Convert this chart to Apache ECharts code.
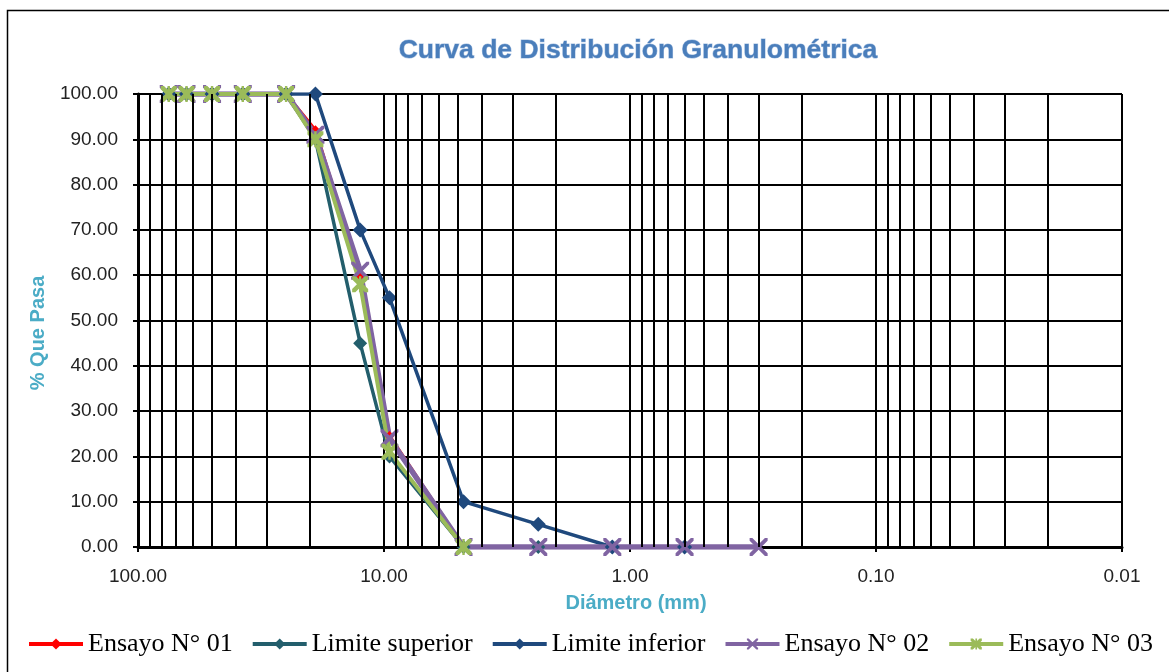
<!DOCTYPE html>
<html>
<head>
<meta charset="utf-8">
<script src="https://cdn.jsdelivr.net/npm/echarts@6/dist/echarts.min.js"></script>
<style>
html,body{margin:0;padding:0;background:#fff;}
#chart{width:1169px;height:672px;}
</style>
</head>
<body>
<div id="chart"></div>
<script>
// ---- data ----
var sieves    = [75, 63.5, 50, 37.5, 25, 19, 12.5, 9.5, 4.75, 2.36, 1.18, 0.6, 0.3];
var ensayo01  = [100, 100, 100, 100, 100, 92, 60, 24.5, 0, 0, 0, 0, null];
var limSup    = [100, 100, 100, 100, 100, 90, 45, 20, 0, 0, 0, 0, null];
var limInf    = [100, 100, 100, 100, 100, 100, 70, 55, 10, 5, 0, 0, null];
var ensayo02  = [100, 100, 100, 100, 100, 91, 61, 24, 0, 0, 0, 0, 0];
var ensayo03  = [100, 100, 100, 100, 100, 90, 58, 21, 0, null, null, null, null];
var seriesNames = ['Ensayo N° 01', 'Limite superior', 'Limite inferior', 'Ensayo N° 02', 'Ensayo N° 03'];
var xTickLabels = ['100.00', '10.00', '1.00', '0.10', '0.01'];
var yTickLabels = ['0.00','10.00','20.00','30.00','40.00','50.00','60.00','70.00','80.00','90.00','100.00'];
var decades = [0.01, 0.1, 1, 10];
var minorMult = [2, 3, 4, 5, 6, 7, 8, 9];

function pairs(arr) {
  var out = [];
  for (var i = 0; i < sieves.length; i++) {
    if (arr[i] !== null && arr[i] !== undefined) out.push([sieves[i], arr[i]]);
  }
  return out;
}

var minorLines = [];
decades.forEach(function (d) {
  minorMult.forEach(function (m) { minorLines.push({ xAxis: +(d * m).toPrecision(6) }); });
});

var xPath = 'path://M0,0 L3,0 L10,7 L17,0 L20,0 L20,3 L13,10 L20,17 L20,20 L17,20 L10,13 L3,20 L0,20 L0,17 L7,10 L0,3 Z';
var starPath = 'path://M0,0 L4,0 L10,6 L16,0 L20,0 L20,4 L14,10 L20,16 L20,20 L16,20 L10,14 L4,20 L0,20 L0,16 L6,10 L0,4 Z M8.5,0 L11.5,0 L11.5,20 L8.5,20 Z';

var chart = echarts.init(document.getElementById('chart'), null, { renderer: 'canvas' });

var option = {
  backgroundColor: '#ffffff',
  animation: false,
  title: {
    text: 'Curva de Distribución Granulométrica',
    left: 633,
    top: 32,
    textAlign: 'center',
    textStyle: {
      fontFamily: 'Liberation Sans',
      fontWeight: 'bold',
      fontSize: 26.5,
      color: '#4A7EBB',
      textBorderColor: '#A9C2E2',
      textBorderWidth: 1
    }
  },
  graphic: [
    {
      type: 'rect',
      shape: { x: 7.5, y: 10.5, width: 1200, height: 700 },
      style: { fill: 'none', stroke: '#000', lineWidth: 1.5 },
      silent: true,
      z: -10
    },
    {
      type: 'text',
      x: 38, y: 333,
      rotation: Math.PI / 2,
      style: {
        text: '% Que Pasa',
        align: 'center',
        verticalAlign: 'middle',
        font: 'bold 20px "Liberation Sans"',
        fill: '#4BACC6'
      },
      silent: true
    }
  ],
  legend: {
    data: seriesNames,
    left: 27,
    top: 631,
    padding: 0,
    itemWidth: 54,
    itemHeight: 14,
    itemGap: 18,
    lineStyle: { width: 4 },
    textStyle: {
      fontFamily: 'Liberation Serif',
      fontSize: 26,
      color: '#000'
    }
  },
  grid: { left: 138, right: 47, top: 94, bottom: 125, containLabel: false },
  xAxis: {
    type: 'log',
    logBase: 10,
    min: 0.01,
    max: 100,
    inverse: true,
    name: 'Diámetro (mm)',
    nameLocation: 'middle',
    nameGap: 46,
    nameTextStyle: {
      fontFamily: 'Liberation Sans',
      fontWeight: 'bold',
      fontSize: 20,
      color: '#4BACC6',
      padding: [0, 0, 0, 12]
    },
    axisLine: { show: true, lineStyle: { color: '#000', width: 3 } },
    axisTick: { show: true, inside: false, length: 5, lineStyle: { color: '#000', width: 2 } },
    axisLabel: {
      margin: 20,
      fontFamily: 'Liberation Sans',
      fontSize: 19,
      color: '#222',
      formatter: function (v) {
        var idx = Math.round(2 - Math.log10(v));
        return xTickLabels[idx] !== undefined ? xTickLabels[idx] : v.toFixed(2);
      }
    },
    splitLine: { show: true, lineStyle: { color: '#000', width: 2 } }
  },
  yAxis: {
    type: 'value',
    min: 0,
    max: 100,
    interval: 10,
    axisLine: { show: true, lineStyle: { color: '#000', width: 3 } },
    axisTick: { show: true, inside: false, length: 5, lineStyle: { color: '#000', width: 2 } },
    axisLabel: {
      margin: 20,
      fontFamily: 'Liberation Sans',
      fontSize: 19,
      color: '#222',
      formatter: function (v) {
        var idx = Math.round(v / 10);
        return yTickLabels[idx] !== undefined ? yTickLabels[idx] : v.toFixed(2);
      }
    },
    splitLine: { show: true, lineStyle: { color: '#000', width: 2 } }
  },
  series: [
    {
      name: 'minor-grid',
      type: 'line',
      data: [],
      silent: true,
      z: 1,
      markLine: {
        silent: true,
        symbol: 'none',
        label: { show: false },
        lineStyle: { color: '#000', width: 2, type: 'solid' },
        data: minorLines,
        animation: false
      }
    },
    {
      name: seriesNames[0],
      type: 'line',
      data: pairs(ensayo01),
      symbol: 'diamond',
      symbolSize: 10,
      lineStyle: { color: '#FF0000', width: 3.5 },
      itemStyle: { color: '#FF0000' },
      z: 3
    },
    {
      name: seriesNames[1],
      type: 'line',
      data: pairs(limSup),
      symbol: 'diamond',
      symbolSize: 14,
      lineStyle: { color: '#235E6C', width: 3.5 },
      itemStyle: { color: '#235E6C' },
      z: 3
    },
    {
      name: seriesNames[2],
      type: 'line',
      data: pairs(limInf),
      symbol: 'diamond',
      symbolSize: 15,
      lineStyle: { color: '#1F497D', width: 3.5 },
      itemStyle: { color: '#1F497D' },
      z: 3
    },
    {
      name: seriesNames[3],
      type: 'line',
      data: pairs(ensayo02),
      symbol: xPath,
      symbolSize: 18,
      lineStyle: { color: '#8064A2', width: 5.5 },
      itemStyle: { color: '#8064A2' },
      z: 3
    },
    {
      name: seriesNames[4],
      type: 'line',
      data: pairs(ensayo03),
      symbol: starPath,
      symbolSize: 16,
      lineStyle: { color: '#9BBB59', width: 4 },
      itemStyle: { color: '#9BBB59' },
      z: 3
    }
  ]
};
chart.setOption(option);
</script>
</body>
</html>
